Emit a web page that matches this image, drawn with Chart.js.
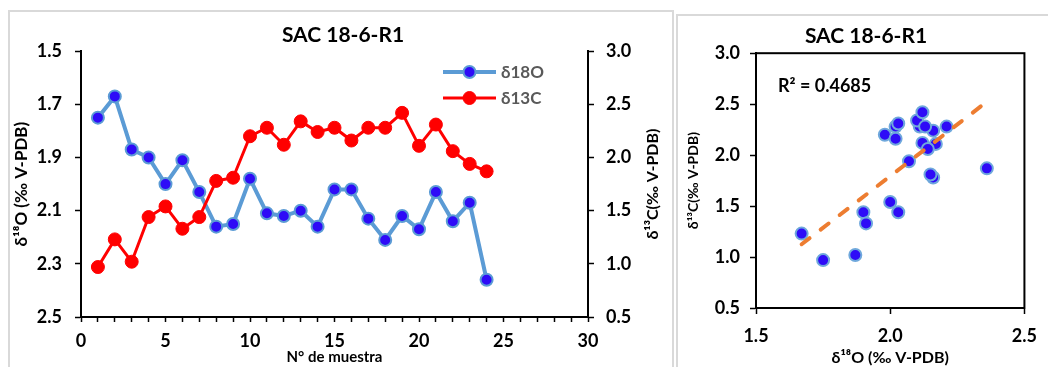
<!DOCTYPE html>
<html>
<head>
<meta charset="utf-8">
<script src="https://cdn.jsdelivr.net/npm/chart.js@4.4.0/dist/chart.umd.min.js"></script>
<style>
  body { margin: 0; background: #fff; width: 1048px; height: 367px; overflow: hidden; position: relative; }
  .panel { position: absolute; border: 2px solid #d9d9d9; box-sizing: border-box; }
  #p1 { left: 8px; top: 10px; width: 666px; height: 400px; }
  #p2 { left: 676px; top: 14px; width: 400px; height: 400px; }
  canvas { position: absolute; top: 0; }
  #c1 { left: 0; }
  #c2 { left: 676px; }
</style>
</head>
<body>
<div class="panel" id="p1"></div>
<div class="panel" id="p2"></div>
<canvas id="c1" width="676" height="367"></canvas>
<canvas id="c2" width="372" height="367"></canvas>
<script>
// datos
const titulo = 'SAC 18-6-R1';
const muestra = [1, 2, 3, 4, 5, 6, 7, 8, 9, 10, 11, 12, 13, 14, 15, 16, 17, 18, 19, 20, 21, 22, 23, 24];
const d18O = [1.75, 1.67, 1.87, 1.90, 2.00, 1.91, 2.03, 2.16, 2.15, 1.98, 2.11, 2.12,
              2.10, 2.16, 2.02, 2.02, 2.13, 2.21, 2.12, 2.17, 2.03, 2.14, 2.07, 2.36];
const d13C = [0.97, 1.23, 1.02, 1.44, 1.54, 1.33, 1.44, 1.78, 1.81, 2.20, 2.28, 2.12,
              2.34, 2.24, 2.28, 2.16, 2.28, 2.28, 2.42, 2.11, 2.31, 2.06, 1.94, 1.87];
const etiquetas = ['δ18O', 'δ13C'];
const tituloO = 'δ¹⁸O (‰ V-PDB)';
const tituloC = 'δ¹³C(‰ V-PDB)';
const tituloX = 'N° de muestra';
const textoR2 = 'R² = 0.4685';

const FONT = 'Lato, "Open Sans", sans-serif';
Chart.defaults.font.family = FONT;
Chart.defaults.color = '#000';

const azul = '#2E0BF7';
const azulClaro = '#5B9BD5';
const rojo = '#FF0000';
const naranja = '#ED7D31';

function textoVertical(ctx, text, x, y, size) {
  ctx.save();
  ctx.translate(x, y);
  ctx.rotate(-Math.PI / 2);
  ctx.font = 'bold ' + size + 'px ' + FONT;
  ctx.textAlign = 'center';
  ctx.textBaseline = 'middle';
  ctx.fillStyle = '#000';
  ctx.fillText(text, 0, 0);
  ctx.restore();
}

function ejeY(min, max, step, pad, width, pos) {
  return {
    position: pos,
    min: min, max: max,
    ticks: { stepSize: step, padding: pad, font: { size: 18, weight: 'bold' }, callback: v => v.toFixed(1) },
    grid: { drawOnChartArea: false, tickLength: 6, tickColor: '#000', tickWidth: 1.5 },
    border: { color: '#000', width: 2 },
    afterFit(s) { s.width = width; }
  };
}

// ---------- grafico de lineas ----------
const leyenda = {
  id: 'leyenda',
  afterDraw(chart) {
    const ctx = chart.ctx;
    const ca = chart.chartArea;
    textoVertical(ctx, tituloC, 653, (ca.top + ca.bottom) / 2, 16);
    chart.data.datasets.forEach((ds, i) => {
      const y = 72 + i * 26;
      const x0 = 443, x1 = 496;
      ctx.save();
      ctx.strokeStyle = ds.borderColor;
      ctx.lineWidth = ds.borderWidth;
      ctx.beginPath(); ctx.moveTo(x0, y); ctx.lineTo(x1, y); ctx.stroke();
      ctx.beginPath(); ctx.arc((x0 + x1) / 2, y, ds.pointRadius, 0, Math.PI * 2);
      ctx.fillStyle = ds.pointBackgroundColor; ctx.fill();
      ctx.lineWidth = ds.pointBorderWidth; ctx.strokeStyle = ds.pointBorderColor; ctx.stroke();
      ctx.fillStyle = '#595959';
      ctx.font = 'bold 17px ' + FONT;
      ctx.textBaseline = 'middle';
      ctx.fillText(ds.label, x1 + 5, y + 1);
      ctx.restore();
    });
  }
};

const ejeO = ejeY(1.5, 2.5, 0.2, 13, 71, 'left');
ejeO.reverse = true;
ejeO.title = { display: true, text: tituloO, font: { size: 17, weight: 'bold' }, padding: { top: 1, bottom: 0 } };

new Chart(document.getElementById('c1'), {
  type: 'line',
  data: {
    datasets: [
      {
        label: etiquetas[0],
        data: muestra.map((m, i) => ({ x: m, y: d18O[i] })),
        yAxisID: 'y',
        borderColor: azulClaro, borderWidth: 4,
        pointBackgroundColor: azul, pointBorderColor: azulClaro,
        pointBorderWidth: 2, pointRadius: 6,
        order: 2
      },
      {
        label: etiquetas[1],
        data: muestra.map((m, i) => ({ x: m, y: d13C[i] })),
        yAxisID: 'y1',
        borderColor: rojo, borderWidth: 3,
        pointBackgroundColor: rojo, pointBorderColor: rojo,
        pointBorderWidth: 1, pointRadius: 6.5,
        order: 1
      }
    ]
  },
  options: {
    responsive: false,
    animation: false,
    layout: { padding: { left: 10, right: 0, top: 19, bottom: 0 } },
    plugins: {
      legend: { display: false },
      tooltip: { enabled: false },
      title: { display: true, text: titulo, font: { size: 21, weight: 'bold' }, color: '#000', padding: { top: 4, bottom: 3 } }
    },
    scales: {
      x: {
        type: 'linear', min: 0, max: 30,
        ticks: { stepSize: 1, autoSkip: false, maxRotation: 0, padding: 8,
                 font: { size: 18, weight: 'bold' }, callback: v => (v % 5 === 0 ? v : '') },
        grid: { drawOnChartArea: false, tickLength: 5, tickColor: '#000', tickWidth: 1.5 },
        border: { color: '#000', width: 2 },
        title: { display: true, text: tituloX, font: { size: 15, weight: 'bold' }, padding: { top: 0, bottom: 1 } },
        afterFit(s) { s.height = 50; }
      },
      y: ejeO,
      y1: ejeY(0.5, 3.0, 0.5, 12, 88, 'right')
    }
  },
  plugins: [leyenda]
});

// ---------- dispersion ----------
const n = d18O.length;
const mx = d18O.reduce((a, b) => a + b, 0) / n;
const my = d13C.reduce((a, b) => a + b, 0) / n;
let sxy = 0, sxx = 0;
for (let i = 0; i < n; i++) {
  sxy += (d18O[i] - mx) * (d13C[i] - my);
  sxx += (d18O[i] - mx) ** 2;
}
const pendiente = sxy / sxx;
const intercepto = my - pendiente * mx;
const xMin = Math.min(...d18O), xMax = Math.max(...d18O);

const marco = {
  id: 'marco',
  afterDraw(chart) {
    const ctx = chart.ctx;
    const ca = chart.chartArea;
    ctx.save();
    ctx.strokeStyle = '#000';
    ctx.lineWidth = 2;
    ctx.strokeRect(ca.left, ca.top, ca.right - ca.left, ca.bottom - ca.top);
    ctx.font = 'bold 18px ' + FONT;
    ctx.fillStyle = '#000';
    ctx.textBaseline = 'middle';
    ctx.fillText(textoR2, ca.left + 22, ca.top + 33);
    ctx.restore();
    textoVertical(ctx, tituloC, 17, (ca.top + ca.bottom) / 2, 14);
  }
};

const ejeC = ejeY(0.5, 3.0, 0.5, 10, 53, 'left');

new Chart(document.getElementById('c2'), {
  type: 'scatter',
  data: {
    datasets: [
      {
        type: 'line',
        data: [{ x: xMin, y: intercepto + pendiente * xMin }, { x: xMax, y: intercepto + pendiente * xMax }],
        borderColor: naranja, borderWidth: 4, borderDash: [10, 14], borderCapStyle: 'round',
        pointRadius: 0, fill: false,
        order: 0
      },
      {
        data: d18O.map((v, i) => ({ x: v, y: d13C[i] })),
        pointBackgroundColor: azul, pointBorderColor: '#6FA8DC',
        pointBorderWidth: 2, pointRadius: 6,
        order: 1
      }
    ]
  },
  options: {
    responsive: false,
    animation: false,
    layout: { padding: { left: 27, right: 19, top: 20, bottom: 0 } },
    plugins: {
      legend: { display: false },
      tooltip: { enabled: false },
      title: { display: true, text: titulo, font: { size: 21, weight: 'bold' }, color: '#000', padding: { top: 4, bottom: 4 } }
    },
    scales: {
      x: {
        type: 'linear', min: 1.5, max: 2.5,
        ticks: { stepSize: 0.5, padding: 11, font: { size: 18, weight: 'bold' }, callback: v => v.toFixed(1) },
        grid: { drawOnChartArea: false, tickLength: 6, tickColor: '#000', tickWidth: 1.5 },
        border: { color: '#000', width: 2 },
        title: { display: true, text: tituloO, font: { size: 16, weight: 'bold' }, padding: { top: 0, bottom: 0 } },
        afterFit(s) { s.height = 59; }
      },
      y: ejeC
    }
  },
  plugins: [marco]
});
</script>
</body>
</html>
